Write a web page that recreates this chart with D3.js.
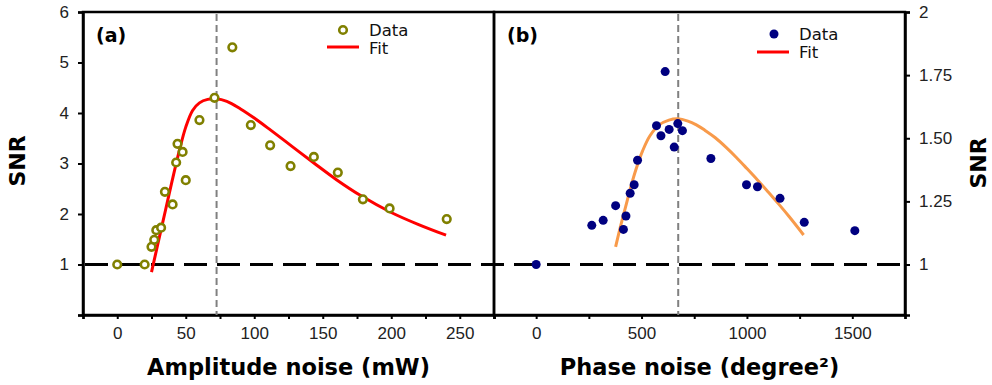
<!DOCTYPE html>
<html>
<head>
<meta charset="utf-8">
<script src="https://cdn.jsdelivr.net/npm/d3@7"></script>
<style>
  body { margin: 0; background: #fff; }
  svg { font-family: "DejaVu Sans", Verdana, sans-serif; }
</style>
</head>
<body>
<svg id="chart" width="992" height="385"></svg>
<script>
// panel (a): amplitude noise
const ampX = [0, 20, 25, 27, 28.5, 32, 34.8, 40.4, 43, 44, 47.7, 50, 60, 71, 84, 97.5, 111.6, 126.5, 143.5, 161, 179.3, 198.8, 240.5]
const ampY = [1.0, 1.0, 1.35, 1.49, 1.68, 1.73, 2.44, 2.19, 3.02, 3.39, 3.23, 2.67, 3.86, 4.30, 5.30, 3.76, 3.36, 2.95, 3.13, 2.82, 2.29, 2.11, 1.90]
const ampFitX = [25, 30, 35, 40, 45, 50, 55, 60, 66, 72, 80, 90, 100, 112, 128, 144, 160, 178, 200, 220, 240]
const ampFitY = [0.85, 1.45, 2.05, 2.65, 3.22, 3.72, 4.05, 4.2, 4.27, 4.28, 4.23, 4.08, 3.9, 3.66, 3.33, 3.0, 2.68, 2.36, 2.03, 1.79, 1.58]
const ampPeak = 72.5
const ampTicks = [0, 50, 100, 150, 200, 250]

// panel (b): phase noise
const phX = [0, 264, 318, 377, 414, 426, 446, 465, 481, 571, 592, 612, 631, 655, 672, 694, 829, 998, 1050, 1157, 1272, 1512]
const phY = [1.0, 1.155, 1.175, 1.233, 1.139, 1.192, 1.282, 1.316, 1.413, 1.55, 1.51, 1.764, 1.535, 1.465, 1.558, 1.53, 1.42, 1.316, 1.308, 1.262, 1.167, 1.134]
const phFitX = [377, 400, 425, 450, 475, 505, 540, 584, 630, 672, 720, 760, 800, 850, 900, 950, 1000, 1050, 1100, 1150, 1200, 1269]
const phFitY = [1.07, 1.15, 1.23, 1.31, 1.38, 1.45, 1.51, 1.553, 1.572, 1.577, 1.568, 1.553, 1.532, 1.502, 1.465, 1.424, 1.38, 1.335, 1.288, 1.24, 1.19, 1.117]
const phPeak = 674
const phTicks = [0, 500, 1000, 1500]

const leftTicks = [1, 2, 3, 4, 5, 6]
const rightTicks = [1, 1.25, 1.5, 1.75, 2]

let svg = d3.select("#chart")
const plotTop = 12, plotBottom = 315
const xa0 = 83, xa1 = 494, xb0 = 494, xb1 = 905

let xa = d3.scaleLinear().domain([-25, 275]).range([xa0, xa1])
let ya = d3.scaleLinear().domain([0, 6]).range([plotBottom, plotTop])
let xb = d3.scaleLinear().domain([-200, 1750]).range([xb0, xb1])
let yb = d3.scaleLinear().domain([0.8, 2]).range([plotBottom, plotTop])

function styleAxis(g) {
    g.selectAll("path").attr("stroke", "#000").attr("stroke-width", 2.5)
    g.selectAll("line").attr("stroke", "#000").attr("stroke-width", 2)
    g.selectAll("text").attr("fill", "#222").style("font-size", "17px")
}

// x axes with minor ticks
svg.append("g").attr("transform", `translate(0,${plotBottom})`)
    .call(d3.axisBottom(xa).tickValues(d3.range(-25, 276, 25)).tickSize(4).tickPadding(8)
        .tickFormat(d => ampTicks.includes(d) ? d : ""))
    .call(styleAxis)
svg.append("g").attr("transform", `translate(0,${plotBottom})`)
    .call(d3.axisBottom(xb).tickValues(d3.range(-250, 1751, 250).filter(d => d > -200)).tickSize(4).tickPadding(8)
        .tickFormat(d => phTicks.includes(d) ? d : ""))
    .call(styleAxis)

// y axes
svg.append("g").attr("transform", `translate(${xa0},0)`)
    .call(d3.axisLeft(ya).tickValues([0].concat(leftTicks)).tickSize(5).tickPadding(9)
        .tickFormat(d => d === 0 ? "" : d))
    .call(styleAxis)
svg.append("g").attr("transform", `translate(${xb1},0)`)
    .call(d3.axisRight(yb).tickValues(rightTicks).tickSize(5).tickPadding(9)
        .tickFormat(d => d === 1 || d === 2 ? d : d3.format(".2f")(d)))
    .call(styleAxis)

// frames
svg.append("rect").attr("x", xa0).attr("y", plotTop).attr("width", xa1 - xa0).attr("height", plotBottom - plotTop)
    .attr("fill", "none").attr("stroke", "#000").attr("stroke-width", 2.5)
svg.append("rect").attr("x", xb0).attr("y", plotTop).attr("width", xb1 - xb0).attr("height", plotBottom - plotTop)
    .attr("fill", "none").attr("stroke", "#000").attr("stroke-width", 2.5)

// reference lines
svg.append("line").attr("x1", xa0 + 2).attr("x2", xb1 - 2).attr("y1", ya(1)).attr("y2", ya(1))
    .attr("stroke", "#000").attr("stroke-width", 3).attr("stroke-dasharray", "23,10")
svg.append("line").attr("x1", xa(ampPeak)).attr("x2", xa(ampPeak)).attr("y1", plotTop + 2).attr("y2", plotBottom)
    .attr("stroke", "#808080").attr("stroke-width", 2).attr("stroke-dasharray", "7,4")
svg.append("line").attr("x1", xb(phPeak)).attr("x2", xb(phPeak)).attr("y1", plotTop + 2).attr("y2", plotBottom)
    .attr("stroke", "#808080").attr("stroke-width", 2).attr("stroke-dasharray", "7,4")

// fits
let lineA = d3.line().x(d => xa(d[0])).y(d => ya(d[1])).curve(d3.curveCatmullRom)
svg.append("path").attr("d", lineA(ampFitX.map((x, i) => [x, ampFitY[i]])))
    .attr("fill", "none").attr("stroke", "#ff0000").attr("stroke-width", 3)
let lineB = d3.line().x(d => xb(d[0])).y(d => yb(d[1])).curve(d3.curveCatmullRom)
svg.append("path").attr("d", lineB(phFitX.map((x, i) => [x, phFitY[i]])))
    .attr("fill", "none").attr("stroke", "#f89a4a").attr("stroke-width", 3)

// data points
svg.append("g").selectAll("circle").data(ampX).join("circle")
    .attr("cx", d => xa(d)).attr("cy", (d, i) => ya(ampY[i])).attr("r", 3.8)
    .attr("fill", "#fff").attr("stroke", "#808000").attr("stroke-width", 2.6)
svg.append("g").selectAll("circle").data(phX).join("circle")
    .attr("cx", d => xb(d)).attr("cy", (d, i) => yb(phY[i])).attr("r", 4.5)
    .attr("fill", "#000080")

// legends
svg.append("circle").attr("cx", 343).attr("cy", 30).attr("r", 3.8)
    .attr("fill", "#fff").attr("stroke", "#808000").attr("stroke-width", 2.6)
svg.append("line").attr("x1", 327).attr("x2", 359).attr("y1", 47).attr("y2", 47)
    .attr("stroke", "#ff0000").attr("stroke-width", 3)
svg.append("circle").attr("cx", 774).attr("cy", 34).attr("r", 4.5).attr("fill", "#000080")
svg.append("line").attr("x1", 757).attr("x2", 789).attr("y1", 52).attr("y2", 52)
    .attr("stroke", "#ff0000").attr("stroke-width", 3)

let legendText = [["Data", 369, 30], ["Fit", 369, 48], ["Data", 799, 34], ["Fit", 799, 52]]
svg.append("g").selectAll("text").data(legendText).join("text")
    .attr("x", d => d[1]).attr("y", d => d[2]).attr("dy", "0.35em")
    .style("font-size", "16.5px").attr("fill", "#111").text(d => d[0])

// panel labels
svg.append("text").attr("x", 96).attr("y", 42).style("font-size", "19px").style("font-weight", "bold").text("(a)")
svg.append("text").attr("x", 507).attr("y", 42).style("font-size", "19px").style("font-weight", "bold").text("(b)")

// axis titles
svg.append("text").attr("x", (xa0 + xa1) / 2).attr("y", 375).attr("text-anchor", "middle")
    .style("font-size", "22.5px").style("font-weight", "bold").text("Amplitude noise (mW)")
svg.append("text").attr("x", (xb0 + xb1) / 2).attr("y", 375).attr("text-anchor", "middle")
    .style("font-size", "22.5px").style("font-weight", "bold").text("Phase noise (degree²)")
svg.append("text").attr("transform", "translate(25,161) rotate(-90)").attr("text-anchor", "middle")
    .style("font-size", "22px").style("font-weight", "bold").text("SNR")
svg.append("text").attr("transform", "translate(986,163) rotate(-90)").attr("text-anchor", "middle")
    .style("font-size", "22px").style("font-weight", "bold").text("SNR")
</script>
</body>
</html>
